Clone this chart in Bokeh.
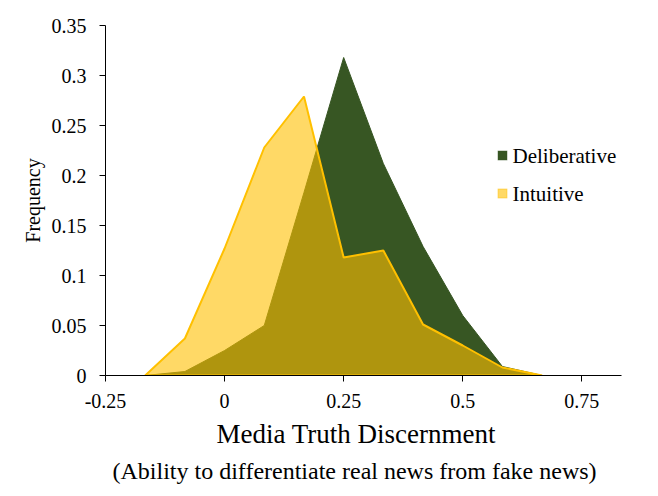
from bokeh.plotting import figure
from bokeh.models import Range1d, FixedTicker, Title, Label, BoxAnnotation
from bokeh.embed import file_html
from bokeh.resources import INLINE

# data
bins = [-0.1667, -0.0833, 0.0, 0.0833, 0.1667, 0.25, 0.3333, 0.4167, 0.5, 0.5833, 0.6667]
deliberative = [0, 0.004, 0.025, 0.050, 0.183, 0.318, 0.212, 0.129, 0.060, 0.009, 0]
intuitive = [0, 0.037, 0.127, 0.228, 0.279, 0.118, 0.125, 0.051, 0.030, 0.008, 0]
series_names = ["Deliberative", "Intuitive"]
x_ticks = [-0.25, 0, 0.25, 0.5, 0.75]
x_tick_labels = ["-0.25", "0", "0.25", "0.5", "0.75"]
y_ticks = [0, 0.05, 0.1, 0.15, 0.2, 0.25, 0.3, 0.35]
y_tick_labels = ["0", "0.05", "0.1", "0.15", "0.2", "0.25", "0.3", "0.35"]

FONT = "Liberation Serif"
GREEN = "#375623"
YELLOW = "#FFC000"

p = figure(width=658, height=496, output_backend="svg", toolbar_location=None,
           x_range=Range1d(-0.25, 0.8333), y_range=Range1d(0, 0.35),
           min_border_left=105, min_border_right=37, min_border_top=25, min_border_bottom=121)
p.outline_line_color = None
p.grid.visible = False
p.background_fill_color = "white"
p.border_fill_color = "white"

p.patch(bins, deliberative, fill_color=GREEN, line_color=GREEN, line_width=1)
p.patch(bins, intuitive, fill_color=YELLOW, fill_alpha=0.6, line_color=YELLOW, line_width=2)

for ax, ticks, labels in ((p.xaxis[0], x_ticks, x_tick_labels), (p.yaxis[0], y_ticks, y_tick_labels)):
    ax.ticker = FixedTicker(ticks=ticks)
    ax.major_label_overrides = {t: l for t, l in zip(ticks, labels)}
    ax.minor_tick_line_color = None
    ax.major_tick_in = 0
    ax.major_tick_out = 6
    ax.major_label_text_font = FONT
    ax.major_label_text_font_size = "20px"
    ax.major_label_text_color = "black"
    ax.axis_line_color = "black"
    ax.major_tick_line_color = "black"

p.xaxis.major_label_standoff = 12
p.yaxis.major_label_standoff = 13
p.yaxis.axis_label = "Frequency"
p.yaxis.axis_label_text_font = FONT
p.yaxis.axis_label_text_font_size = "20px"
p.yaxis.axis_label_text_font_style = "normal"
p.yaxis.axis_label_text_color = "black"
p.yaxis.axis_label_standoff = 5

t1 = Title(text="Media Truth Discernment", text_font=FONT, text_font_size="27px",
           text_font_style="normal", text_color="black", align="left", offset=111,
           standoff=13)
t2 = Title(text="(Ability to differentiate real news from fake news)", text_font=FONT,
           text_font_size="24px", text_font_style="normal", text_color="black",
           align="left", offset=7, standoff=0)
p.add_layout(t1, "below")
p.add_layout(t2, "below")

# legend (frame-relative screen units)
legend_style = [(GREEN, 1.0, GREEN), (YELLOW, 0.6, YELLOW)]
for i, (name, (fc, fa, lc)) in enumerate(zip(series_names, legend_style)):
    cy = 220 - 38 * i
    p.add_layout(BoxAnnotation(left=392.5, right=401.5, bottom=cy - 4.5, top=cy + 4.5,
                               left_units="screen", right_units="screen",
                               bottom_units="screen", top_units="screen",
                               fill_color=fc, fill_alpha=fa, line_color=lc, line_width=1.5))
    p.add_layout(Label(x=407, y=cy, x_units="screen", y_units="screen", text=name,
                       text_font=FONT, text_font_size="21px", text_color="black",
                       text_baseline="middle", text_align="left"))

open("out.html", "w").write(file_html(p, INLINE))
